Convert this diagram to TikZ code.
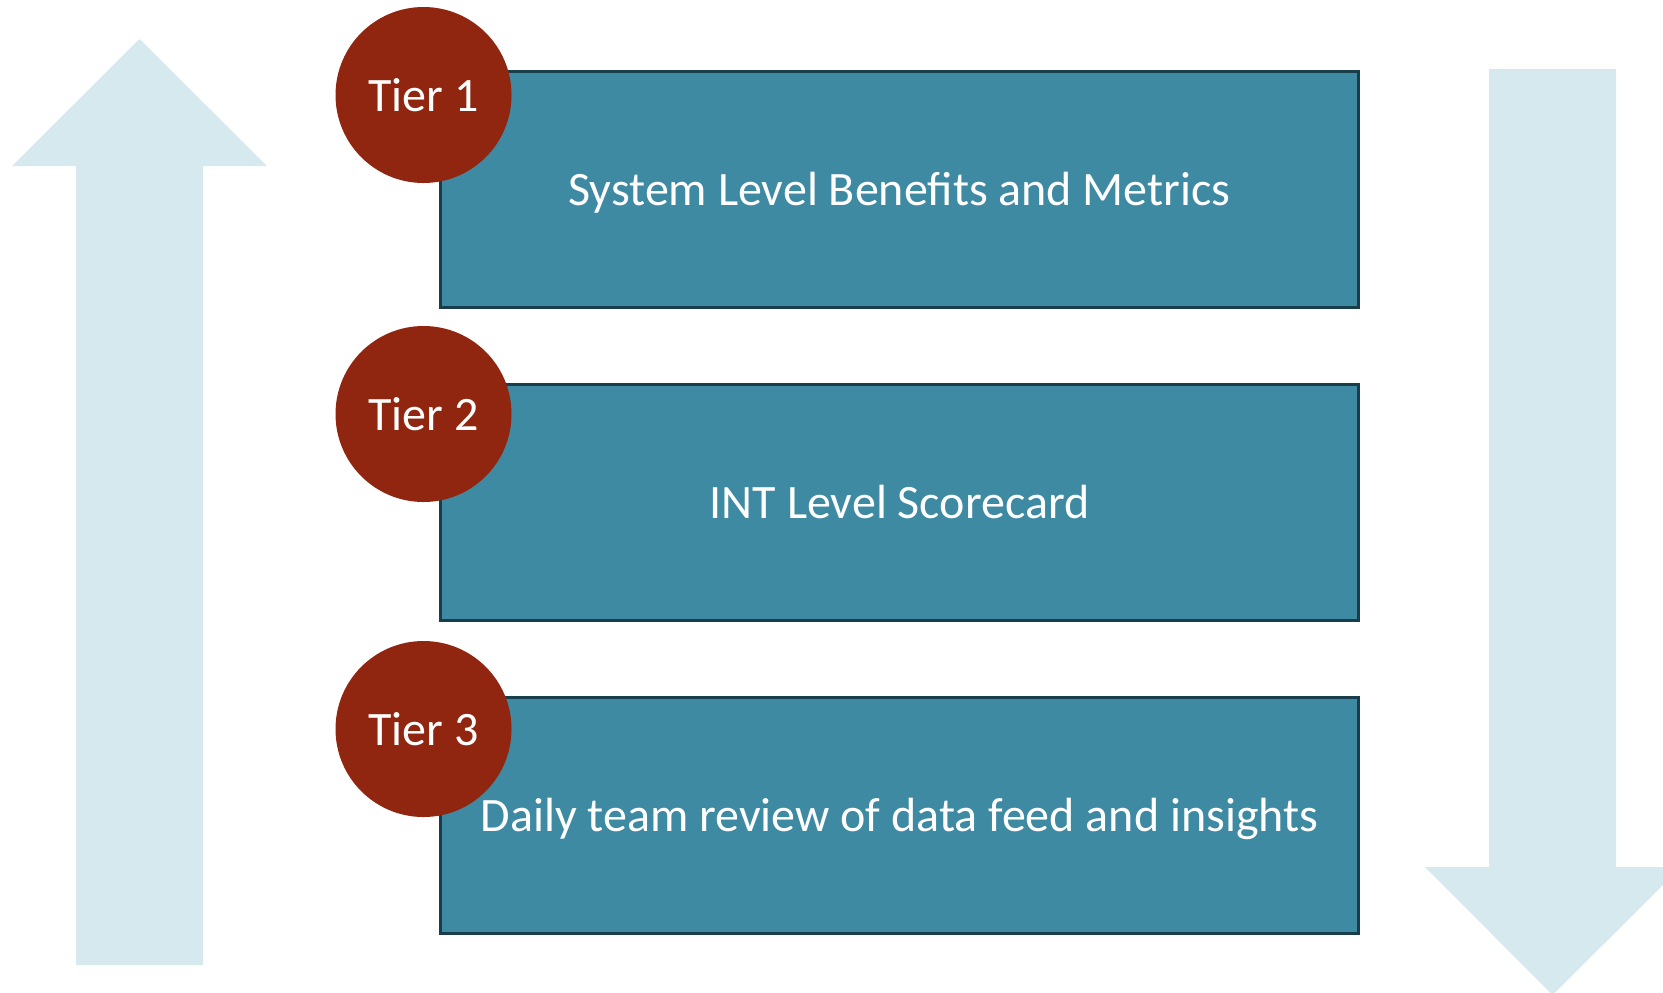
\documentclass[tikz,border=0pt]{standalone}
\usepackage{fontspec}
\setmainfont{Carlito}
\usepackage{tikz}
\usetikzlibrary{positioning}

\definecolor{tierbox}{RGB}{62,138,163}
\definecolor{tierline}{RGB}{24,62,76}
\definecolor{tierdot}{RGB}{144,38,16}
\definecolor{flowarrow}{RGB}{213,233,239}

\begin{document}
\begin{tikzpicture}[x=0.5pt,y=-0.5pt,node distance=156.5pt,
  level/.style={rectangle,draw=tierline,line width=1.5pt,fill=tierbox,
    minimum width=459pt,minimum height=118pt,inner sep=0pt,text depth=0pt,
    text=white,font=\fontsize{24}{28}\selectfont},
  badge/.style={circle,fill=tierdot,minimum size=88pt,inner sep=0pt,
    text=white,font=\fontsize{24}{28}\selectfont}]

\useasboundingbox (0,0) rectangle (1663,992);

% up and down arrows
\fill[flowarrow] (139.5,39) -- (267,166) -- (203,166) -- (203,965)
  -- (76,965) -- (76,166) -- (12,166) -- cycle;
\fill[flowarrow] (1552.5,995) -- (1425,867) -- (1489,867) -- (1489,69)
  -- (1616,69) -- (1616,867) -- (1681,867) -- cycle;

\node[level] (L1) at (899.5,189) {System Level Benefits and Metrics};
\node[level] (L2) [below of=L1] {INT Level Scorecard};
\node[level] (L3) [below of=L2] {Daily team review of data feed and insights};

\node[badge] (T1) at (423.5,95) {Tier 1};
\node[badge] (T2) at (423.5,414) {Tier 2};
\node[badge] (T3) at (423.5,729) {Tier 3};
\end{tikzpicture}
\end{document}
